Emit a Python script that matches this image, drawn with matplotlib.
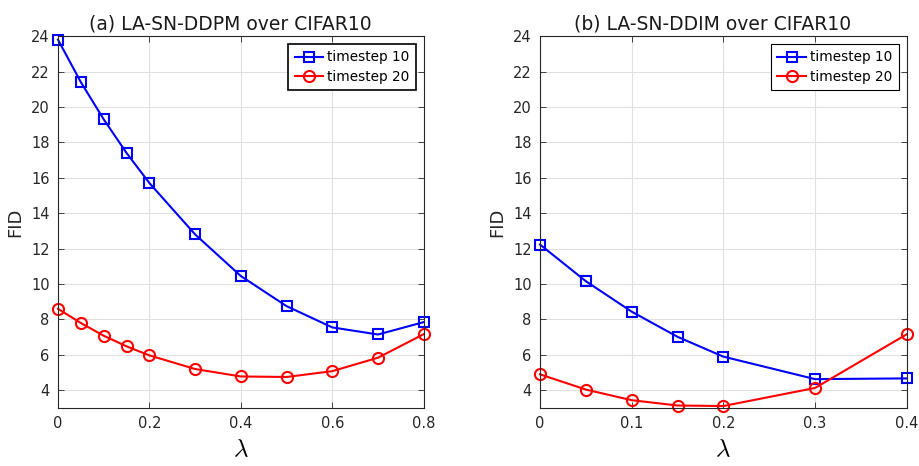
import matplotlib
matplotlib.use('Agg')
import matplotlib.pyplot as plt

plt.rcParams.update({
    'font.family': 'DejaVu Sans',
    'font.size': 10,
    'axes.linewidth': 0.8,
    'axes.edgecolor': '#262626',
    'xtick.direction': 'in',
    'ytick.direction': 'in',
    'xtick.top': True,
    'ytick.right': True,
    'xtick.color': '#262626',
    'ytick.color': '#262626',
    'mathtext.fontset': 'cm',
})

# (a) LA-SN-DDPM
lam_ddpm = [0, 0.05, 0.1, 0.15, 0.2, 0.3, 0.4, 0.5, 0.6, 0.7, 0.8]
ddpm_t10 = [23.8, 21.4, 19.3, 17.4, 15.7, 12.8, 10.45, 8.75, 7.55, 7.15, 7.85]
ddpm_t20 = [8.6, 7.8, 7.08, 6.48, 5.97, 5.2, 4.78, 4.75, 5.08, 5.84, 7.17]

# (b) LA-SN-DDIM
lam_ddim = [0, 0.05, 0.1, 0.15, 0.2, 0.3, 0.4]
ddim_t10 = [12.23, 10.16, 8.44, 7.02, 5.9, 4.63, 4.67]
ddim_t20 = [4.9, 4.04, 3.44, 3.14, 3.11, 4.13, 7.16]

titles = ['(a) LA-SN-DDPM over CIFAR10', '(b) LA-SN-DDIM over CIFAR10']
xticks_list = [[0, 0.2, 0.4, 0.6, 0.8], [0, 0.1, 0.2, 0.3, 0.4]]
xtick_labels = [['0', '0.2', '0.4', '0.6', '0.8'], ['0', '0.1', '0.2', '0.3', '0.4']]
yticks = list(range(4, 25, 2))

fig = plt.figure(figsize=(9.19, 4.66), dpi=100)
ax1 = fig.add_axes([0.0631, 0.1245, 0.398, 0.798])
ax2 = fig.add_axes([0.5876, 0.1245, 0.399, 0.798])

data = [(lam_ddpm, ddpm_t10, ddpm_t20), (lam_ddim, ddim_t10, ddim_t20)]

for i, (ax, (lam, t10, t20)) in enumerate(zip([ax1, ax2], data)):
    ax.plot(lam, t10, color='#0000ff', marker='s', markersize=7, markerfacecolor='none',
            markeredgewidth=1.5, linewidth=1.5, label='timestep 10')
    ax.plot(lam, t20, color='#ff0000', marker='o', markersize=8, markerfacecolor='none',
            markeredgewidth=1.5, linewidth=1.5, label='timestep 20')
    ax.set_xlim(lam[0], lam[-1])
    ax.set_ylim(3, 24)
    ax.set_xticks(xticks_list[i])
    ax.set_xticklabels(xtick_labels[i])
    ax.set_yticks(yticks)
    ax.tick_params(labelsize=10.5, length=4, width=0.6, pad=6)
    ax.grid(True, color='#e0e0e0', linewidth=0.8)
    ax.set_axisbelow(True)
    ax.set_title(titles[i], fontsize=13.5, color='#1a1a1a', pad=5, x=0.47)
    ax.set_xlabel(r'$\lambda$', fontsize=18, labelpad=4)
    ax.set_ylabel('FID', fontsize=13, color='#262626', labelpad=5)
    leg = ax.legend(loc='upper right', fontsize=9.8, fancybox=False, framealpha=1,
                    edgecolor='black', borderpad=0.45, handlelength=2.1,
                    handletextpad=0.3, labelspacing=0.4, borderaxespad=0.6)
    leg.get_frame().set_linewidth(1.2 if i == 0 else 0.8)
    for line in ax.lines:
        line.set_clip_on(False)

fig.savefig('out.png', dpi=100)
